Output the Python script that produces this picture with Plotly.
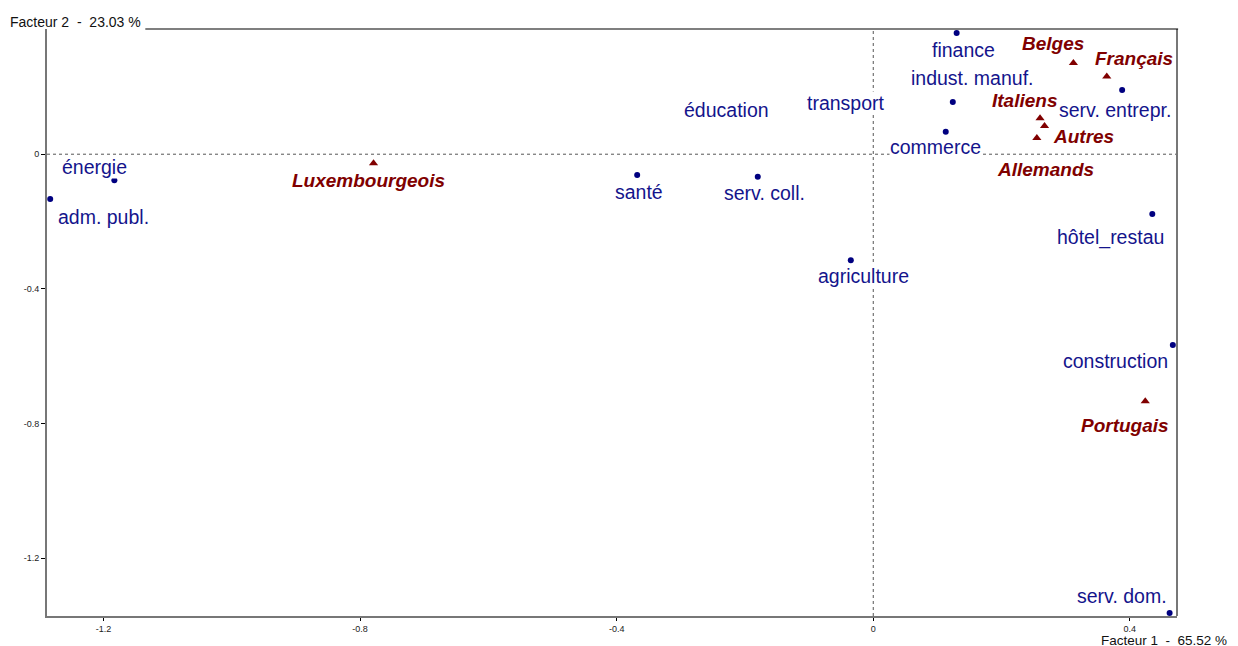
import plotly.graph_objects as go

# ---- data ----
sectors = ["finance", "indust. manuf.", "transport", "éducation", "commerce",
           "serv. entrepr.", "énergie", "adm. publ.", "santé", "serv. coll.",
           "agriculture", "hôtel_restau", "construction", "serv. dom."]
sector_f1 = [0.130, 0.124, -0.042, -0.228, 0.113, 0.388, -1.183, -1.283,
             -0.368, -0.180, -0.035, 0.435, 0.467, 0.462]
sector_f2 = [0.360, 0.155, 0.152, 0.132, 0.067, 0.191, -0.077, -0.133,
             -0.062, -0.067, -0.315, -0.178, -0.567, -1.363]

nations = ["Belges", "Français", "Italiens", "Allemands", "Autres",
           "Luxembourgeois", "Portugais"]
nation_f1 = [0.312, 0.364, 0.260, 0.267, 0.255, -0.779, 0.424]
nation_f2 = [0.271, 0.231, 0.107, 0.084, 0.048, -0.027, -0.734]

x_ticks = [-1.2, -0.8, -0.4, 0, 0.4]
y_ticks = [0, -0.4, -0.8, -1.2]
x_title = "Facteur 1\u00a0 -\u00a0 65.52 %"
y_title = "Facteur 2\u00a0 -\u00a0 23.03 %"

# ---- label offsets in pixels (dx right, dy down) ----
sector_offsets = [(7, 17), (19, -24), (0, 0), (0, 0), (-10, 15), (-7, 20),
                  (-20, -13), (53, 18), (2, 17), (7, 16), (13, 16),
                  (-42, 23), (-57, 16), (-48, -17)]
nation_offsets = [(-20, -19), (27, -18), (-16, -18), (1, 44), (47, -2),
                  (-5, 17), (-20, 24)]

BLUE_M = "#000080"
BLUE_T = "#14148c"
RED = "#800000"
FONT = "Liberation Sans, Arial, sans-serif"

fig = go.Figure()
fig.add_trace(go.Scatter(x=sector_f1, y=sector_f2, mode="markers",
                         marker=dict(symbol="circle", size=6, color=BLUE_M),
                         hoverinfo="text", text=sectors, showlegend=False))
fig.add_trace(go.Scatter(x=nation_f1, y=nation_f2, mode="markers",
                         marker=dict(symbol="triangle-up", size=8, color=RED),
                         hoverinfo="text", text=nations, showlegend=False))

annotations = []
for name, x, y, (dx, dy) in zip(sectors, sector_f1, sector_f2, sector_offsets):
    annotations.append(dict(x=x, y=y, xref="x", yref="y", text=name,
                            showarrow=False, xshift=dx, yshift=-dy,
                            font=dict(family=FONT, size=19.5, color=BLUE_T),
                            bgcolor="white", borderpad=0))
for name, x, y, (dx, dy) in zip(nations, nation_f1, nation_f2, nation_offsets):
    annotations.append(dict(x=x, y=y, xref="x", yref="y",
                            text="<b><i>" + name + "</i></b>",
                            showarrow=False, xshift=dx, yshift=-dy,
                            font=dict(family=FONT, size=19, color=RED),
                            bgcolor="white", borderpad=0))

annotations.append(dict(x=0, y=1, xref="paper", yref="paper", text=y_title,
                        showarrow=False, xanchor="left", yanchor="middle",
                        xshift=-39, yshift=7,
                        font=dict(family=FONT, size=14, color="#111")))
annotations.append(dict(x=1, y=0, xref="paper", yref="paper", text=x_title,
                        showarrow=False, xanchor="right", yanchor="middle",
                        xshift=52, yshift=-24,
                        font=dict(family=FONT, size=13.5, color="#111")))

shapes = [
    # dotted zero lines
    dict(type="line", xref="x", yref="paper", x0=0, x1=0, y0=0, y1=1,
         line=dict(color="#555", width=1, dash="dot"), layer="below"),
    dict(type="line", xref="paper", yref="y", x0=0, x1=1, y0=0, y1=0,
         line=dict(color="#555", width=1, dash="dot"), layer="below"),
    # right border (grey) and top border (black, after title)
    dict(type="line", xref="paper", yref="paper", x0=1, x1=1, y0=0, y1=1,
         line=dict(color="#777", width=2), layer="below"),
    dict(type="line", xref="paper", yref="paper", x0=0.087, x1=1.001, y0=1, y1=1,
         line=dict(color="black", width=1.2), layer="below"),
]

# page body has an 8px default margin: compensate so the plot lands where the reference's does
fig.update_layout(
    width=1238, height=646,
    margin=dict(l=39, r=69, t=21, b=38),
    paper_bgcolor="white", plot_bgcolor="white",
    showlegend=False,
    annotations=annotations, shapes=shapes,
    xaxis=dict(range=[-1.288, 0.4735], showgrid=False, zeroline=False,
               showline=True, linecolor="#777", linewidth=2,
               ticks="outside", ticklen=3, tickcolor="black", tickwidth=1,
               tickvals=x_ticks, ticktext=[str(v) for v in x_ticks],
               tickfont=dict(family=FONT, size=9, color="#222")),
    yaxis=dict(range=[-1.372, 0.372], showgrid=False, zeroline=False,
               showline=True, linecolor="#777", linewidth=2,
               ticks="outside", ticklen=4, tickcolor="black", tickwidth=1,
               tickvals=y_ticks, ticktext=[str(v) for v in y_ticks],
               tickfont=dict(family=FONT, size=9, color="#222")),
)

fig.write_html("out.html")
